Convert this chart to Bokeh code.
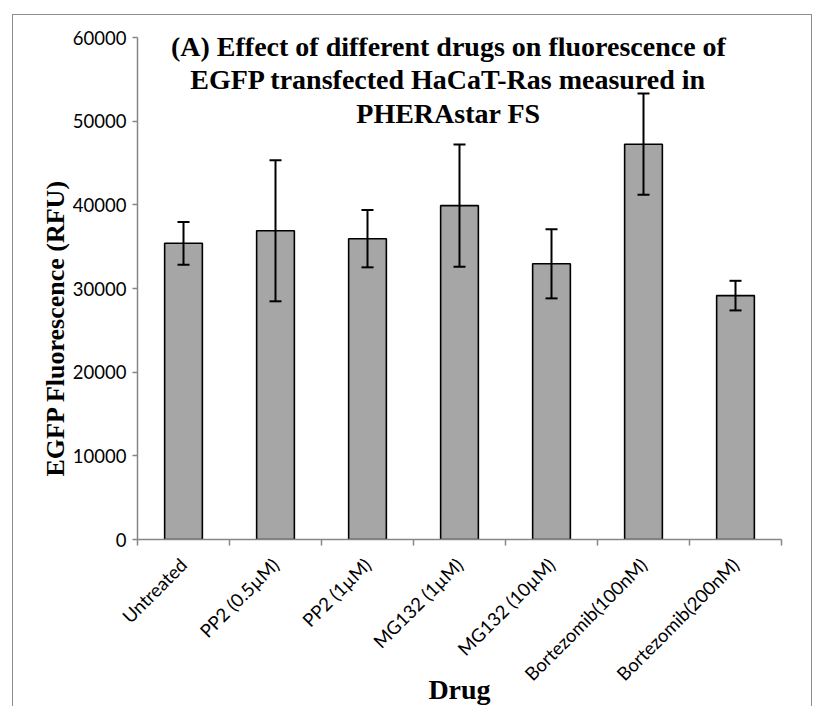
import math
from bokeh.plotting import figure
from bokeh.layouts import column, row
from bokeh.models import (Range1d, FixedTicker, Whisker, ColumnDataSource, Label,
                          TeeHead, Title, Spacer)
from bokeh.embed import file_html
from bokeh.resources import INLINE

categories = ["Untreated", "PP2 (0.5µM)", "PP2 (1µM)", "MG132 (1µM)",
              "MG132 (10µM)", "Bortezomib(100nM)", "Bortezomib(200nM)"]
mean_rfu = [35400, 36900, 35950, 39900, 32950, 47250, 29150]
err_rfu = [2550, 8430, 3420, 7300, 4130, 6050, 1770]
y_ticks = [0, 10000, 20000, 30000, 40000, 50000, 60000]

title_lines = ["(A) Effect of different drugs on fluorescence of",
               "EGFP transfected HaCaT-Ras measured in",
               "PHERAstar FS"]
x_title = "Drug"
y_title = "EGFP Fluorescence (RFU)"

n = len(categories)
xs = [i + 0.5 for i in range(n)]
src = ColumnDataSource(dict(
    x=xs, top=mean_rfu,
    upper=[m + e for m, e in zip(mean_rfu, err_rfu)],
    lower=[m - e for m, e in zip(mean_rfu, err_rfu)],
))

serif = "Liberation Serif"

p = figure(width=800, height=692, output_backend="svg", toolbar_location=None,
           x_range=Range1d(0, n), y_range=Range1d(0, 60000),
           min_border_left=124, min_border_right=32, min_border_top=22,
           min_border_bottom=165)
p.styles = {"border-left": "1px solid #8c8c8c", "border-top": "1px solid #8c8c8c",
            "border-right": "1px solid #8c8c8c", "box-sizing": "border-box"}
p.outline_line_color = None
p.xgrid.visible = False
p.ygrid.visible = False
p.background_fill_color = "white"
p.border_fill_color = "white"

p.vbar(x="x", top="top", width=0.41, source=src, fill_color="#a6a6a6",
       line_color="black", line_width=1.6)

wh = Whisker(base="x", upper="upper", lower="lower", source=src,
             line_color="black", line_width=2, level="overlay",
             upper_head=TeeHead(size=12, line_color="black", line_width=2),
             lower_head=TeeHead(size=12, line_color="black", line_width=2))
p.add_layout(wh)

axis_color = "#868686"
font = "Lato"

xa = p.xaxis[0]
xa.ticker = FixedTicker(ticks=xs, minor_ticks=list(range(n + 1)))
xa.major_label_overrides = {x: c for x, c in zip(xs, categories)}
xa.major_label_orientation = math.pi / 4
xa.major_tick_line_color = None
xa.minor_tick_line_color = axis_color
xa.minor_tick_line_width = 1.5
xa.minor_tick_in = 0
xa.minor_tick_out = 6
xa.axis_line_color = axis_color
xa.axis_line_width = 1.5
xa.major_label_text_font = font
xa.major_label_text_font_size = "18.5px"
xa.major_label_text_color = "black"
xa.major_label_standoff = 16
xa.axis_label = x_title
xa.axis_label_text_font = serif
xa.axis_label_text_font_style = "bold"
xa.axis_label_text_font_size = "28px"
xa.axis_label_text_color = "black"
xa.axis_label_standoff = -22

ya = p.yaxis[0]
ya.ticker = FixedTicker(ticks=y_ticks)
ya.major_tick_in = 0
ya.major_tick_out = 5
ya.major_tick_line_color = axis_color
ya.major_tick_line_width = 1.5
ya.minor_tick_line_color = None
ya.axis_line_color = axis_color
ya.axis_line_width = 1.5
ya.major_label_text_font = font
ya.major_label_text_font_size = "18.5px"
ya.major_label_text_color = "black"
ya.major_label_standoff = 6

p.add_layout(Title(text=y_title, align="left", offset=63, standoff=0,
                   text_font=serif, text_font_style="bold", text_font_size="26px",
                   text_color="black"), "left")

title_y = [58950, 54950, 50950]
for line, ty in zip(title_lines, title_y):
    p.add_layout(Label(x=3.38, y=ty, text=line, text_font=serif,
                       text_font_style="bold", level="overlay",
                       text_font_size="28px", text_align="center",
                       text_baseline="alphabetic", text_color="black"))

layout = column(Spacer(height=14), row(Spacer(width=12), p))
open("out.html", "w").write(file_html(layout, INLINE))
